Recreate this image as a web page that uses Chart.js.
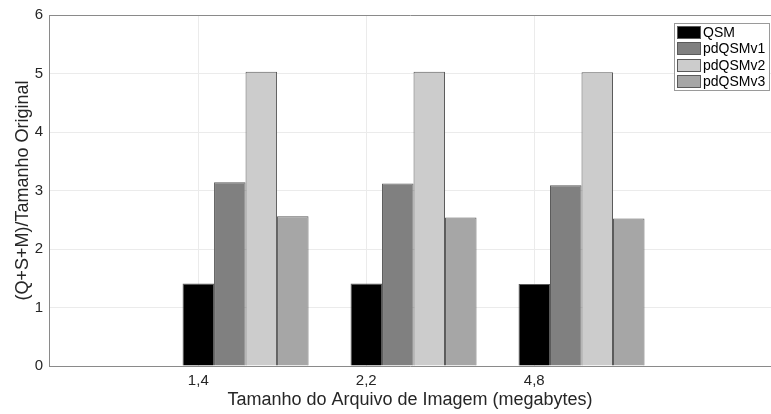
<!DOCTYPE html>
<html><head><meta charset="utf-8">
<script src="https://cdn.jsdelivr.net/npm/chart.js@4"></script>
<style>html,body{margin:0;padding:0;background:#fff}#wrap{width:771px;height:414px;position:relative}</style>
</head><body><div id="wrap"><canvas id="c"></canvas></div>
<script>
const categories = ['1,4', '2,2', '4,8'];
const seriesNames = ['QSM', 'pdQSMv1', 'pdQSMv2', 'pdQSMv3'];
const qsm = [1.41, 1.41, 1.40];
const pdQSMv1 = [3.14, 3.12, 3.09];
const pdQSMv2 = [5.03, 5.03, 5.02];
const pdQSMv3 = [2.56, 2.54, 2.52];
const yTicks = [0, 1, 2, 3, 4, 5, 6];
const colors = ['#000000', '#808080', '#cccccc', '#a6a6a6'];

const groupFrac = 0.75;
const firstOffset = -groupFrac / 2 + groupFrac / 8;
const seriesValues = [qsm, pdQSMv1, pdQSMv2, pdQSMv3];

const datasets = seriesNames.map((name, k) => ({
  label: name,
  data: seriesValues[k].map((v, i) => ({x: i, y: v})),
  backgroundColor: colors[k],
  borderColor: '#5a5a5a',
  borderWidth: 1,
  categoryPercentage: groupFrac,
  barPercentage: 1.0
}));

const boxLegend = {
  id: 'boxLegend',
  afterDraw(chart) {
    const ctx = chart.ctx;
    const bx = 674.5, by = 23.5, bw = 95, bh = 67;
    ctx.save();
    ctx.fillStyle = '#ffffff';
    ctx.fillRect(bx, by, bw, bh);
    ctx.strokeStyle = '#9a9a9a';
    ctx.lineWidth = 1;
    ctx.strokeRect(bx, by, bw, bh);
    ctx.font = '14px "Liberation Sans", Arial, sans-serif';
    ctx.textBaseline = 'middle';
    chart.data.datasets.forEach((ds, i) => {
      const cy = by + 8.5 + i * 16.5;
      ctx.fillStyle = ds.backgroundColor;
      ctx.fillRect(677, Math.round(cy - 6.5), 24, 13);
      ctx.strokeStyle = '#5a5a5a';
      ctx.strokeRect(677.5, Math.round(cy - 6.5) + 0.5, 23, 12);
      ctx.fillStyle = '#000000';
      ctx.fillText(ds.label, 703, cy + 1);
    });
    ctx.restore();
  }
};

new Chart(document.getElementById('c'), {
  type: 'bar',
  data: {datasets},
  plugins: [boxLegend],
  options: {
    responsive: true,
    maintainAspectRatio: false,
    animation: false,
    layout: {padding: {top: 15, right: 0, left: 12, bottom: 3}},
    plugins: {legend: {display: false}, tooltip: {enabled: false}},
    scales: {
      x: {
        type: 'linear',
        min: -1.17,
        max: 3.128,
        offset: false,
        afterBuildTicks(scale) {
          scale.ticks = categories.map((c, i) => ({value: i + firstOffset}));
        },
        afterFit(scale) { scale.height = 45; },
        ticks: {
          callback: (v, idx) => categories[idx],
          autoSkip: false, maxRotation: 0, padding: 6,
          color: '#262626',
          font: {family: '"Liberation Sans", Arial, sans-serif', size: 15}
        },
        grid: {offset: false, color: '#ebebeb', drawTicks: false},
        border: {display: true, color: '#8a8a8a', width: 1},
        title: {
          display: true,
          text: 'Tamanho do Arquivo de Imagem (megabytes)',
          color: '#262626',
          padding: 0,
          font: {family: '"Liberation Sans", Arial, sans-serif', size: 18}
        }
      },
      y: {
        min: 0, max: 6,
        afterBuildTicks(scale) { scale.ticks = yTicks.map(v => ({value: v})); },
        afterFit(scale) { scale.width = 37; },
        ticks: {
          padding: 6,
          color: '#262626',
          font: {family: '"Liberation Sans", Arial, sans-serif', size: 15}
        },
        grid: {
          drawTicks: false,
          color: ctx => (ctx.tick && ctx.tick.value === 6) ? '#8a8a8a' : '#ebebeb'
        },
        border: {display: true, color: '#8a8a8a', width: 1},
        title: {
          display: true,
          text: '(Q+S+M)/Tamanho Original',
          color: '#262626',
          padding: 0,
          font: {family: '"Liberation Sans", Arial, sans-serif', size: 18}
        }
      }
    }
  }
});
</script>
</body></html>
